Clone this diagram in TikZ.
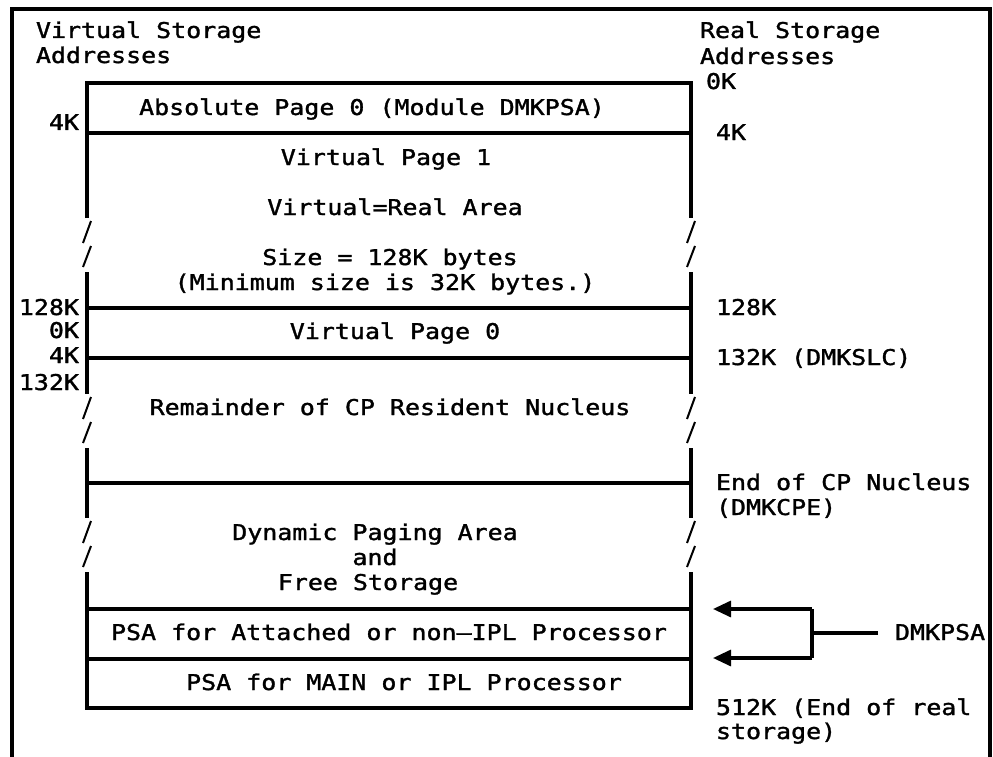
\documentclass[tikz,border=0pt]{standalone}
\usepackage{fontspec}
\newfontfamily\printfont[FakeStretch=1.15,FakeBold=1.5]{DejaVu Sans Mono}
\usetikzlibrary{arrows.meta}
\begin{document}
\begin{tikzpicture}[x=1pt,y=-1pt,
  txt/.style={font=\printfont\fontsize{21.7}{25}\selectfont, inner sep=0pt, outer sep=0pt},
  lbl/.style={txt, anchor=base west},
  rlbl/.style={txt, anchor=base east},
  mid/.style={txt, anchor=base},
  rule/.style={line width=3.2pt},
  brk/.style={line width=2pt},
  ptr/.style={line width=3.2pt, -{Triangle[length=18pt,width=16pt]}}]

\useasboundingbox (0,0) rectangle (993,757);

% outer frame
\draw[rule] (12,757) -- (12,9) -- (990,9) -- (990,757);

% storage map: outline with broken sides
\draw[rule] (87,218) -- (87,83) -- (691,83) -- (691,218);
\draw[rule] (87,272) -- (87,394) (691,272) -- (691,394);
\draw[rule] (87,448) -- (87,518) (691,448) -- (691,518);
\draw[rule] (87,572) -- (87,708) -- (691,708) -- (691,572);
\foreach \t in {218,394,518}{
  \foreach \x in {87,691}{
    \draw[brk] ({\x-4},{\t+25}) -- ({\x+4},{\t+3});
    \draw[brk] ({\x-4},{\t+49}) -- ({\x+4},{\t+28});
  }
}
% area boundaries
\foreach \y in {133,308,358,483,609,659}
  \draw[rule] (87,\y) -- (691,\y);

% column headings
\node[lbl] (vhead1) at (36,38) {Virtual Storage};
\node[lbl] (vhead2) at (36,63) {Addresses};
\node[lbl] (rhead1) at (700,38) {Real Storage};
\node[lbl] (rhead2) at (700,64) {Addresses};

% virtual addresses
\node[rlbl] (v4k) at (79,130) {4K};
\node[rlbl] (v128k) at (79,315) {128K};
\node[rlbl] (v0k) at (79,338) {0K};
\node[rlbl] (v4kb) at (79,363) {4K};
\node[rlbl] (v132k) at (79,390) {132K};

% real addresses
\node[lbl] (r0k) at (706,89) {0K};
\node[lbl] (r4k) at (716,140) {4K};
\node[lbl] (r128k) at (716,315) {128K};
\node[lbl] (r132k) at (716,365) {132K (DMKSLC)};
\node[lbl] (rend1) at (716,490) {End of CP Nucleus};
\node[lbl] (rend2) at (716,515) {(DMKCPE)};
\node[lbl] (r512a) at (716,715) {512K (End of real};
\node[lbl] (r512b) at (716,739) {storage)};

% area contents
\node[mid] (abs) at (372,115) {Absolute Page 0 (Module DMKPSA)};
\node[mid] (vp1) at (386,165) {Virtual Page 1};
\node[mid] (veqr) at (395,215) {Virtual=Real Area};
\node[mid] (size) at (390,265) {Size = 128K bytes};
\node[mid] (minsize) at (385,290) {(Minimum size is 32K bytes.)};
\node[mid] (vp0) at (395,339) {Virtual Page 0};
\node[mid] (rem) at (390,415) {Remainder of CP Resident Nucleus};
\node[mid] (dyn1) at (375,540) {Dynamic Paging Area};
\node[mid] (dyn2) at (375,565) {and};
\node[mid] (dyn3) at (368,590) {Free Storage};
\node[mid] (psaatt) at (389,640) {PSA for Attached or non–IPL Processor};
\node[mid] (psamain) at (404,690) {PSA for MAIN or IPL Processor};

% DMKPSA pointers
\node[lbl] (psa) at (895,640) {DMKPSA};
\coordinate (stem) at (878,633);
\coordinate (forkA) at (812,609);
\coordinate (forkB) at (812,658);
\coordinate (tipA) at (713,609);
\coordinate (tipB) at (713,658);
\draw[rule] (stem) -- (stem -| forkA);
\draw[rule] (forkA) -- (forkB);
\draw[ptr] (forkA) -- (tipA);
\draw[ptr] (forkB) -- (tipB);
\end{tikzpicture}
\end{document}
